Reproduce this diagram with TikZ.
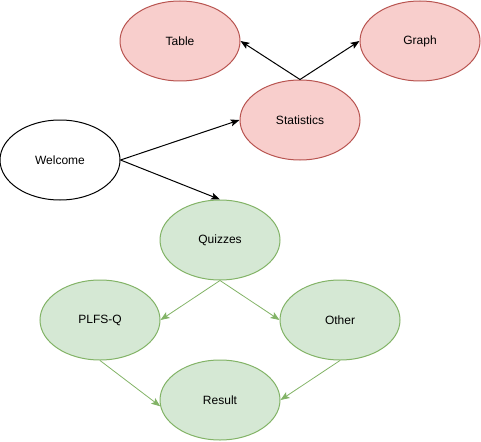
\documentclass[tikz,border=0pt]{standalone}
\usepackage{fontspec}
\setmainfont{Liberation Sans}
\usetikzlibrary{shapes.geometric,arrows.meta}
\definecolor{redfill}{HTML}{F8CECC}
\definecolor{redline}{HTML}{B85450}
\definecolor{greenfill}{HTML}{D5E8D4}
\definecolor{greenline}{HTML}{82B366}
\begin{document}
\begin{tikzpicture}[x=1pt,y=-1pt,
  el/.style={ellipse,draw,line width=1pt,minimum width=120pt,minimum height=80pt,inner sep=0pt,font=\fontsize{12pt}{14pt}\selectfont},
  redel/.style={el,fill=redfill,draw=redline},
  greenel/.style={el,fill=greenfill,draw=greenline},
  blackarrow/.style={line width=1pt,-{Stealth[length=9pt,width=7pt,inset=2pt]}},
  greenarrow/.style={line width=0.8pt,draw=greenline,-{Stealth[length=9pt,width=7pt,inset=2pt]}}
]
\useasboundingbox (0,0) rectangle (481,441);
\node[redel] (table) at (180,41) {Table};
\node[redel] (graph) at (420,41) {Graph};
\node[redel] (stats) at (300,120) {Statistics};
\node[el,fill=white] (welcome) at (60,160) {Welcome};
\node[greenel] (quiz) at (220,240) {Quizzes};
\node[greenel] (plfs) at (100,320) {PLFS-Q};
\node[greenel] (other) at (340,320) {Other};
\node[greenel] (result) at (220,400) {Result};
\draw[blackarrow] (stats.north) -- (table.east);
\draw[blackarrow] (stats.north) -- (graph.west);
\draw[blackarrow] (welcome.east) -- (stats.west);
\draw[blackarrow] (welcome.east) -- (quiz.north);
\draw[greenarrow] (quiz.south) -- (plfs.east);
\draw[greenarrow] (quiz.south) -- (other.west);
\draw[greenarrow] (plfs.south) -- (result.186);
\draw[greenarrow] (other.south) -- (result.east);
\end{tikzpicture}
\end{document}
